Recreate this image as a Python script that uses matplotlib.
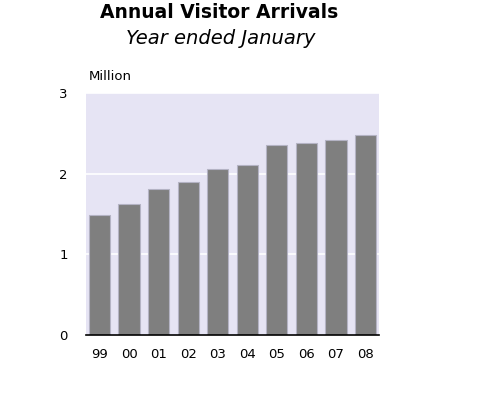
import matplotlib.pyplot as plt
import numpy as np

# Data (million visitor arrivals, year ended January)
years = ['99', '00', '01', '02', '03', '04', '05', '06', '07', '08']
arrivals = [1.49, 1.63, 1.81, 1.90, 2.06, 2.11, 2.35, 2.38, 2.42, 2.48]

fig = plt.figure(figsize=(4.8, 3.98), dpi=100)
ax = fig.add_axes([86 / 480, 1 - 335 / 398, 293 / 480, 242 / 398])

x = np.arange(len(years))
ax.set_facecolor('#e6e4f4')
ax.bar(x, arrivals, width=0.72, color='#7f7f7f', edgecolor='#b4b3c4', linewidth=0.8, zorder=3)

ax.set_ylim(0, 3)
ax.set_xlim(-0.46, len(years) - 0.54)
ax.set_yticks([0, 1, 2, 3])
ax.set_xticks(x)
ax.set_xticklabels(years)
ax.yaxis.grid(True, color='white', linewidth=1.2, zorder=1)
ax.set_axisbelow(True)

for s in ['top', 'right', 'left']:
    ax.spines[s].set_visible(False)
ax.spines['bottom'].set_color('black')
ax.spines['bottom'].set_linewidth(1.2)
ax.spines['bottom'].set_zorder(4)
ax.tick_params(axis='both', length=0, labelsize=9.5)
ax.tick_params(axis='y', pad=13)
ax.tick_params(axis='x', pad=9)

fig.text(219 / 480, 1 - 13 / 398, 'Annual Visitor Arrivals', ha='center', va='center',
         fontsize=13.5, fontweight='bold')
fig.text(221 / 480, 1 - 39 / 398, 'Year ended January', ha='center', va='center',
         fontsize=14, style='italic')
fig.text(89 / 480, 1 - 77 / 398, 'Million', ha='left', va='center', fontsize=9.5)

fig.savefig('out.png', dpi=100)
